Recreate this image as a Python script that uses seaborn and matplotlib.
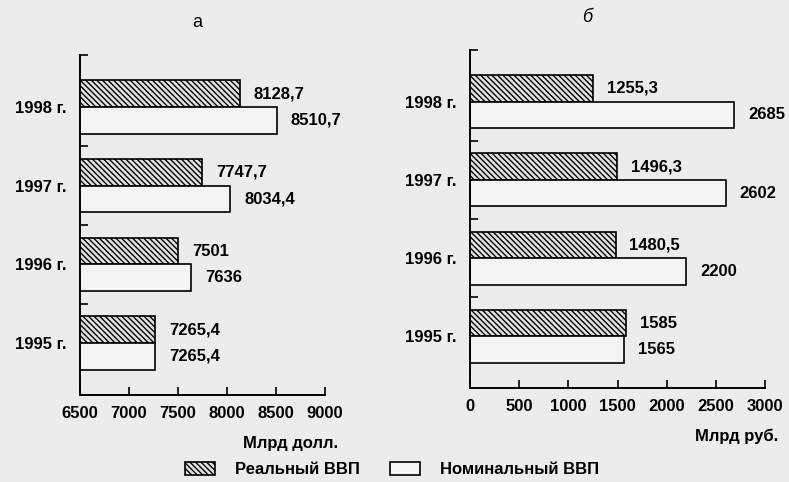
import matplotlib
matplotlib.use("Agg")
import matplotlib.pyplot as plt
from matplotlib.patches import Patch
from matplotlib.ticker import FixedLocator
import pandas as pd
import seaborn as sns

# ---- data ----
years = ['1998 г.', '1997 г.', '1996 г.', '1995 г.']
series = ['Реальный ВВП', 'Номинальный ВВП']
real_usd = [8128.7, 7747.7, 7501, 7265.4]
nominal_usd = [8510.7, 8034.4, 7636, 7265.4]
real_rub = [1255.3, 1496.3, 1480.5, 1585]
nominal_rub = [2685, 2602, 2200, 1565]
usd_ticks = [6500, 7000, 7500, 8000, 8500, 9000]
rub_ticks = [0, 500, 1000, 1500, 2000, 2500, 3000]

sns.set_style('ticks')
plt.rcParams['font.family'] = ['Liberation Sans', 'DejaVu Sans']
plt.rcParams['hatch.linewidth'] = 1.0
plt.rcParams['text.color'] = 'black'
plt.rcParams['axes.edgecolor'] = 'black'
plt.rcParams['xtick.color'] = 'black'
plt.rcParams['ytick.color'] = 'black'
plt.rcParams['axes.labelcolor'] = 'black'

BG = '#ececec'
palette = ['#e2e2e2', '#f4f4f4']
FS = 12
HATCH = '\\' * 6


def make_df(real, nominal):
    rows = []
    for y, r, n in zip(years, real, nominal):
        rows.append((y, series[0], r))
        rows.append((y, series[1], n))
    return pd.DataFrame(rows, columns=['year', 'series', 'value'])


def fmt(v):
    return f"{v:g}".replace('.', ',')


fig = plt.figure(figsize=(7.89, 4.82), dpi=100, facecolor=BG)
axL = fig.add_axes([80 / 789, 1 - 395 / 482, 245 / 789, 340 / 482])
axR = fig.add_axes([470 / 789, 1 - 388 / 482, 295 / 789, 338 / 482])


def draw(ax, real, nominal, ticks, xlabel, title, title_x, title_style, xlab_x):
    df = make_df(real, nominal)
    sns.barplot(data=df, x='value', y='year', hue='series', order=years,
                hue_order=series, orient='h', palette=palette, saturation=1,
                width=0.675, edgecolor='black', linewidth=1.2, legend=False,
                ax=ax)
    ax.set_facecolor(BG)
    for p in ax.containers[0]:
        p.set_hatch(HATCH)
    for cont, vals in zip(ax.containers, [real, nominal]):
        ax.bar_label(cont, labels=[fmt(v) for v in vals], padding=10,
                     fontsize=FS, fontweight='bold', color='black')
    ax.set_xlim(ticks[0], ticks[-1])
    ax.set_ylim(3.66, -0.66)
    ax.set_xticks(ticks)
    ax.set_xticklabels([str(t) for t in ticks], fontsize=FS, fontweight='bold')
    ax.set_yticks(range(len(years)))
    ax.set_yticklabels(years, fontsize=FS, fontweight='bold')
    ax.yaxis.set_minor_locator(FixedLocator([-0.66, 0.5, 1.5, 2.5]))
    ax.tick_params(axis='y', which='major', length=0, pad=10)
    ax.tick_params(axis='y', which='minor', direction='in', length=6, width=1.2)
    ax.tick_params(axis='x', direction='in', length=6, width=1.2, pad=8)
    ax.set_ylabel('')
    ax.set_xlabel(xlabel, fontsize=FS, fontweight='bold', loc='right')
    ax.xaxis.set_label_coords(xlab_x, -0.12)
    for s in ['top', 'right']:
        ax.spines[s].set_visible(False)
    for s in ['left', 'bottom']:
        ax.spines[s].set_linewidth(1.4)
    ax.text(title_x, 1.095, title, transform=ax.transAxes, ha='center',
            va='center', fontsize=13, style=title_style)


draw(axL, real_usd, nominal_usd, usd_ticks, 'Млрд долл.', 'а', 0.478, 'normal', 1.055)
draw(axR, real_rub, nominal_rub, rub_ticks, 'Млрд руб.', 'б', 0.397, 'italic', 1.045)

handles = [Patch(facecolor=palette[0], edgecolor='black', hatch=HATCH, linewidth=1.2),
           Patch(facecolor=palette[1], edgecolor='black', linewidth=1.2)]
fig.legend(handles, series, loc='center', bbox_to_anchor=(0.497, 0.026), ncol=2,
           frameon=False, prop={'size': FS, 'weight': 'bold'},
           handlelength=1.8, handleheight=0.9, handletextpad=1.2, columnspacing=1.8)

fig.savefig('out.png', dpi=100, facecolor=BG)
